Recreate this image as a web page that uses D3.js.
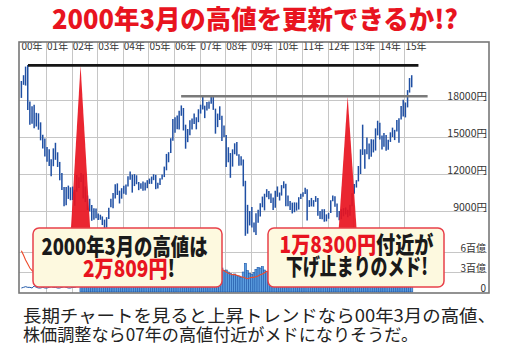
<!DOCTYPE html>
<html>
<head>
<meta charset="utf-8">
<script src="https://cdn.jsdelivr.net/npm/d3@7"></script>
<style>
body { margin: 0; background: #fff; }
svg { display: block; }
</style>
</head>
<body>
<div id="chart"></div>
<script>
// monthly high / low, Jan 2000 - Apr 2015 (yen)
var priceHigh = [
    19540, 20010, 20710, 20833, 17870, 17500, 17610, 16960, 16920, 16190, 15180, 14880,
    14190, 14000, 13200, 14080, 14530, 13760, 12980, 12090, 10950, 10940, 11060, 10920,
    10980, 10720, 11920, 11730, 12080, 11960, 10990, 10260, 9990, 9490, 9220, 9200,
    8800, 8700, 8560, 8300, 8500, 9270, 10000, 10450, 11160, 11240, 10650, 10850,
    11050, 11140, 11820, 12200, 11950, 11990, 11900, 11350, 11240, 11400, 11320, 11500,
    11630, 11790, 11980, 11930, 11300, 11650, 11950, 12600, 13630, 13770, 14900, 16450,
    16600, 16750, 17120, 17560, 17350, 16000, 15650, 16350, 16500, 16900, 16600, 17250,
    17620, 18300, 17540, 17830, 17880, 18240, 18300, 17300, 16900, 17490, 16730, 15930,
    15160, 14170, 13700, 14000, 14490, 14600, 13600, 13430, 13180, 11450, 9500, 9000,
    9330, 8060, 8820, 9110, 9630, 10170, 10400, 10770, 10620, 10420, 10100, 10640,
    10990, 10500, 11100, 11410, 11200, 10260, 9820, 9680, 9700, 9690, 10120, 10400,
    10520, 10890, 10770, 9880, 10060, 9880, 10210, 10050, 9000, 9150, 9150, 8730,
    8850, 9870, 10260, 10200, 9600, 9000, 9140, 9230, 9290, 9100, 9500, 10440,
    11190, 11500, 12650, 14000, 16000, 14000, 14950, 14470, 14820, 14800, 15700, 16320,
    16160, 15120, 15320, 15160, 14770, 15380, 15760, 15580, 16380, 16530, 17520, 18030,
    17800, 18800, 19780, 20010
];
var priceLow = [
    18170, 19230, 19170, 17190, 15990, 16070, 15700, 15850, 15590, 14730, 14060, 13420,
    12990, 12640, 11820, 12630, 13150, 12570, 11490, 10700, 9380, 9460, 9980, 9870,
    9890, 9420, 10570, 10860, 11350, 10020, 9720, 9080, 8970, 8200, 8300, 8410,
    8280, 8290, 7860, 7600, 7650, 8350, 9300, 9230, 10020, 10300, 9610, 10000,
    10390, 10320, 10980, 11530, 10490, 11020, 11170, 10690, 10800, 10650, 10670, 10850,
    11200, 11200, 11500, 10770, 10830, 11100, 11550, 11750, 12300, 12950, 13700, 14700,
    15340, 15630, 15600, 16720, 15530, 14050, 14580, 15140, 15600, 16050, 15620, 16200,
    16900, 17220, 16530, 17150, 17300, 17700, 17200, 15270, 15800, 16380, 14670, 15000,
    12570, 12950, 11690, 12600, 13600, 13480, 12670, 12680, 11000, 6990, 7160, 7830,
    7670, 7280, 7050, 8050, 8550, 9300, 9050, 10120, 9960, 9650, 9080, 9270,
    10150, 9850, 10250, 10840, 9380, 9380, 9090, 8800, 8900, 9030, 9120, 9970,
    10160, 10370, 8230, 9330, 9370, 9350, 9740, 8620, 8350, 8340, 8130, 8160,
    8370, 8830, 9800, 9340, 8500, 8240, 8330, 8570, 8720, 8490, 8620, 9380,
    10400, 10900, 11400, 12000, 13550, 12420, 13600, 13190, 13400, 13750, 13900, 15130,
    14790, 13990, 14200, 13880, 13960, 14600, 15000, 14750, 15450, 14530, 16420, 16670,
    16590, 17400, 18600, 19030
];

// volume (百億), thin line Jan 2000 - Apr 2002, bars May 2002 - Apr 2015
var volumeEarly = [
    0.6, 0.7, 0.8, 0.7, 0.7, 0.6, 0.9, 0.7, 0.6, 0.6, 0.7, 0.6,
    0.6, 0.7, 0.8, 0.7, 0.7, 0.6, 0.6, 0.7, 0.8, 0.7, 0.6, 0.6,
    0.7, 0.7, 0.8, 0.8
];
var volumeBars = [
    1.6, 1.5, 1.7, 1.5, 1.6, 1.8, 1.6, 1.4,
    1.5, 1.5, 1.7, 1.8, 2.0, 2.3, 2.6, 2.8, 2.9, 3.1, 2.5, 2.3,
    2.6, 2.8, 3.0, 3.2, 2.8, 2.6, 2.4, 2.2, 2.3, 2.4, 2.4, 2.5,
    2.4, 2.6, 2.7, 2.5, 2.3, 2.5, 2.6, 3.0, 3.4, 3.5, 3.8, 4.0,
    4.2, 3.6, 3.5, 3.4, 3.6, 3.8, 3.0, 2.9, 2.8, 2.9, 3.0, 3.1,
    3.3, 3.6, 3.8, 3.2, 3.3, 3.4, 3.5, 4.0, 3.3, 3.4, 3.6, 3.2,
    3.3, 3.0, 2.8, 2.6, 2.7, 2.5, 2.4, 2.2, 3.0, 4.3, 3.2, 2.8,
    2.6, 2.9, 3.4, 3.7, 3.6, 3.8, 3.3, 3.1, 3.0, 2.7, 2.6, 2.5,
    2.4, 2.3, 2.5, 2.6, 2.9, 2.5, 2.2, 2.0, 2.1, 2.0, 2.3, 2.2,
    2.3, 2.5, 3.4, 2.5, 2.2, 2.0, 2.0, 2.4, 2.2, 2.0, 2.1, 1.8,
    1.9, 2.4, 2.6, 2.2, 2.1, 1.9, 1.7, 1.6, 1.8, 1.8, 2.1, 2.6,
    3.5, 3.8, 4.3, 5.0, 5.8, 4.6, 3.8, 3.5, 3.6, 3.4, 3.7, 3.5,
    3.6, 3.5, 3.1, 2.9, 2.8, 2.9, 2.8, 2.6, 3.0, 3.4, 3.5, 3.3,
    3.2, 3.4, 3.6, 3.5
];
var volumeAvg = [
    6.2, 5.5, 4.8, 4.2, 3.6, 3.2, 3.0, 2.9, 2.7, 2.6, 2.5, 2.4,
    2.4, 2.3, 2.3, 2.4, 2.3, 2.2, 2.1, 2.0, 2.0, 2.1, 2.0, 1.9,
    1.9, 1.8, 1.9, 2.0, 1.9, 1.8, 1.7, 1.7, 1.6, 1.6, 1.7, 1.6,
    1.6, 1.5, 1.5, 1.6, 1.7, 1.8, 2.0, 2.2, 2.3, 2.5, 2.4, 2.4,
    2.5, 2.6, 2.7, 2.8, 2.7, 2.6, 2.5, 2.4, 2.4, 2.4, 2.4, 2.4,
    2.4, 2.5, 2.5, 2.5, 2.4, 2.4, 2.5, 2.7, 2.9, 3.1, 3.4, 3.6,
    3.8, 3.7, 3.6, 3.5, 3.5, 3.6, 3.4, 3.2, 3.0, 3.0, 3.0, 3.0,
    3.1, 3.3, 3.4, 3.4, 3.3, 3.3, 3.4, 3.6, 3.6, 3.5, 3.4, 3.2,
    3.0, 2.8, 2.7, 2.6, 2.6, 2.5, 2.4, 2.3, 2.2, 2.1, 2.0, 2.1,
    2.2, 2.2, 2.3, 2.4, 2.6, 2.7, 2.9, 3.1, 3.0, 2.9, 2.8, 2.7,
    2.6, 2.5, 2.5, 2.5, 2.6, 2.5, 2.4, 2.3, 2.2, 2.2, 2.2, 2.2,
    2.2, 2.3, 2.6, 2.5, 2.4, 2.3, 2.2, 2.2, 2.2, 2.1, 2.1, 2.0,
    2.0, 2.1, 2.2, 2.2, 2.1, 2.0, 1.9, 1.8, 1.8, 1.8, 1.9, 2.1,
    2.5, 2.9, 3.3, 3.8, 4.3, 4.4, 4.2, 3.9, 3.7, 3.6, 3.6, 3.6,
    3.6, 3.5, 3.4, 3.2, 3.0, 2.9, 2.9, 2.8, 2.9, 3.0, 3.2, 3.3,
    3.3, 3.3, 3.4, 3.4
];

var yearLabels = ["00年", "01年", "02年", "03年", "04年", "05年", "06年", "07年",
    "08年", "09年", "10年", "11年", "12年", "13年", "14年", "15年"];
var priceTicks = [9000, 12000, 15000, 18000];
var volumeTicks = [0, 3, 6];
var volumeTickLabels = ["0", "3百億", "6百億"];

// resistance lines: [value, start date, end date]
var resistLines = [
    { value: 20809, from: new Date(2000, 3, 18), to: new Date(2015, 6, 20), color: "#151515" },
    { value: 18300, from: new Date(2006, 3, 12), to: new Date(2015, 10, 28), color: "#7a7a7a" }
];
// red spikes: peak date, top value, bottom value, half width in days
var spikes = [
    { date: new Date(2002, 4, 8), top: 20809, bottom: 7000, half: 143 },
    { date: new Date(2012, 9, 13), top: 18300, bottom: 7000, half: 134 }
];

var width = 509, height = 361;
var svg = d3.select("#chart").append("svg")
    .attr("width", width)
    .attr("height", height)
    .style("font-family", "'Noto Sans CJK JP', 'Noto Sans', sans-serif");

var x = d3.scaleTime()
    .domain([new Date(2000, 0, 1), new Date(2016, 0, 1)])
    .range([20.4, 430]);
var y = d3.scaleLinear().domain([9000, 18000]).range([211, 100]);
var yVol = d3.scaleLinear().domain([0, 6]).range([292, 252]);

function monthDate(i, offset) {
    return new Date(2000, i + (offset || 0), 15);
}

var frame = { left: 19, top: 42, right: 489, bottom: 293 };

// grid
var grid = svg.append("g");
d3.range(2001, 2016).forEach(function (yr) {
    var gx = Math.round(x(new Date(yr, 0, 1))) + 0.5;
    grid.append("line")
        .attr("x1", gx).attr("x2", gx)
        .attr("y1", frame.top).attr("y2", frame.bottom)
        .attr("stroke", "#c6c6c6").attr("stroke-width", 1);
});
priceTicks.forEach(function (v) {
    grid.append("line")
        .attr("x1", frame.left).attr("x2", frame.right - 2)
        .attr("y1", Math.round(y(v)) + 0.5).attr("y2", Math.round(y(v)) + 0.5)
        .attr("stroke", "#c6c6c6");
});
volumeTicks.slice(1).forEach(function (v) {
    grid.append("line")
        .attr("x1", frame.left).attr("x2", frame.right - 2)
        .attr("y1", Math.round(yVol(v)) + 0.5).attr("y2", Math.round(yVol(v)) + 0.5)
        .attr("stroke", "#c6c6c6");
});

// volume
var monthW = x(new Date(2000, 1, 1)) - x(new Date(2000, 0, 1));
svg.append("g").selectAll("rect")
    .data(volumeBars)
    .enter().append("rect")
    .attr("x", function (d, i) { return x(monthDate(i, 28)) - monthW / 2; })
    .attr("y", function (d) { return yVol(d); })
    .attr("width", monthW)
    .attr("height", function (d) { return yVol(0) - yVol(d); })
    .attr("fill", "#5d9fe0")
    .attr("stroke", "#1d56a8")
    .attr("stroke-width", 0.6);

svg.append("path")
    .datum(volumeEarly)
    .attr("d", d3.line()
        .x(function (d, i) { return x(monthDate(i)); })
        .y(function (d) { return yVol(d); }))
    .attr("fill", "none")
    .attr("stroke", "#1d56a8")
    .attr("stroke-width", 1);

svg.append("path")
    .datum(volumeAvg)
    .attr("d", d3.line()
        .x(function (d, i) { return x(monthDate(i)); })
        .y(function (d) { return yVol(d); }))
    .attr("fill", "none")
    .attr("stroke", "#ee4a2a")
    .attr("stroke-width", 1.1);

// price bars
svg.append("g").selectAll("line")
    .data(priceHigh)
    .enter().append("line")
    .attr("x1", function (d, i) { return x(monthDate(i)); })
    .attr("x2", function (d, i) { return x(monthDate(i)); })
    .attr("y1", function (d) { return y(d); })
    .attr("y2", function (d, i) { return y(priceLow[i]); })
    .attr("stroke", "#1f4fa3")
    .attr("stroke-width", 1.5);

// spikes
svg.append("g").selectAll("path")
    .data(spikes)
    .enter().append("path")
    .attr("d", function (s) {
        var l = d3.timeDay.offset(s.date, -s.half);
        var r = d3.timeDay.offset(s.date, s.half);
        return "M" + x(l) + "," + y(s.bottom) + "L" + x(s.date) + "," + y(s.top) +
            "L" + x(r) + "," + y(s.bottom) + "Z";
    })
    .attr("fill", "#e8141f")
    .attr("fill-opacity", 0.92);

// resistance lines
svg.append("g").selectAll("line")
    .data(resistLines)
    .enter().append("line")
    .attr("x1", function (d) { return x(d.from); })
    .attr("x2", function (d) { return x(d.to); })
    .attr("y1", function (d) { return y(d.value); })
    .attr("y2", function (d) { return y(d.value); })
    .attr("stroke", function (d) { return d.color; })
    .attr("stroke-width", 2.6);

// axis labels
svg.append("g").selectAll("text")
    .data(yearLabels)
    .enter().append("text")
    .attr("x", function (d, i) { return x(new Date(2000 + i, 0, 1)) + 1; })
    .attr("y", 50)
    .attr("font-size", 10)
    .attr("fill", "#333")
    .text(function (d) { return d; });

svg.append("g").selectAll("text")
    .data(priceTicks)
    .enter().append("text")
    .attr("x", 487)
    .attr("y", function (d) { return y(d) - 0.5; })
    .attr("text-anchor", "end")
    .attr("font-size", 10.5)
    .attr("fill", "#333")
    .text(function (d) { return d + "円"; });

svg.append("g").selectAll("text")
    .data(volumeTicks)
    .enter().append("text")
    .attr("x", 486)
    .attr("y", function (d) { return yVol(d) - 0.5; })
    .attr("text-anchor", "end")
    .attr("font-size", 10)
    .attr("fill", "#333")
    .text(function (d, i) { return volumeTickLabels[i]; });

// frame
svg.append("rect")
    .attr("x", frame.left).attr("y", frame.top)
    .attr("width", frame.right - frame.left)
    .attr("height", frame.bottom - frame.top)
    .attr("fill", "none")
    .attr("stroke", "#777")
    .attr("stroke-width", 1.6);

// callout boxes
function callout(bx, by, bw, bh) {
    svg.append("rect")
        .attr("x", bx).attr("y", by)
        .attr("width", bw).attr("height", bh)
        .attr("rx", 6)
        .attr("fill", "#fdf9df")
        .attr("stroke", "#e8404a")
        .attr("stroke-width", 1.5);
}
function boldText(tx, ty, len, parts) {
    var t = svg.append("text")
        .attr("x", tx).attr("y", ty)
        .attr("font-size", 23)
        .attr("font-weight", 900)
        .attr("textLength", len)
        .attr("lengthAdjust", "spacingAndGlyphs");
    parts.forEach(function (p) {
        t.append("tspan").attr("fill", p[1]).text(p[0]);
    });
}
callout(33, 228, 189, 59);
boldText(41.5, 255, 166, [["2000年3月の高値は", "#1a1a1a"]]);
boldText(83, 277, 92, [["2万809円", "#e8141f"], ["!", "#1a1a1a"]]);

callout(268, 228, 176, 59);
boldText(279.5, 252.5, 154, [["1万8300円", "#e8141f"], ["付近が", "#1a1a1a"]]);
boldText(286, 275, 142, [["下げ止まりのメド!", "#1a1a1a"]]);

// title
svg.append("text")
    .attr("x", 52).attr("y", 29)
    .attr("font-size", 26)
    .attr("font-weight", 900)
    .attr("fill", "#e8141f")
    .attr("textLength", 406)
    .attr("lengthAdjust", "spacingAndGlyphs")
    .text("2000年3月の高値を更新できるか!?");

// caption
svg.append("text")
    .attr("x", 23).attr("y", 322)
    .attr("font-size", 17.5)
    .attr("fill", "#222")
    .attr("textLength", 473)
    .attr("lengthAdjust", "spacingAndGlyphs")
    .text("長期チャートを見ると上昇トレンドなら00年3月の高値、");
svg.append("text")
    .attr("x", 23).attr("y", 341)
    .attr("font-size", 17.5)
    .attr("fill", "#222")
    .attr("textLength", 395)
    .attr("lengthAdjust", "spacingAndGlyphs")
    .text("株価調整なら07年の高値付近がメドになりそうだ。");
</script>
</body>
</html>
